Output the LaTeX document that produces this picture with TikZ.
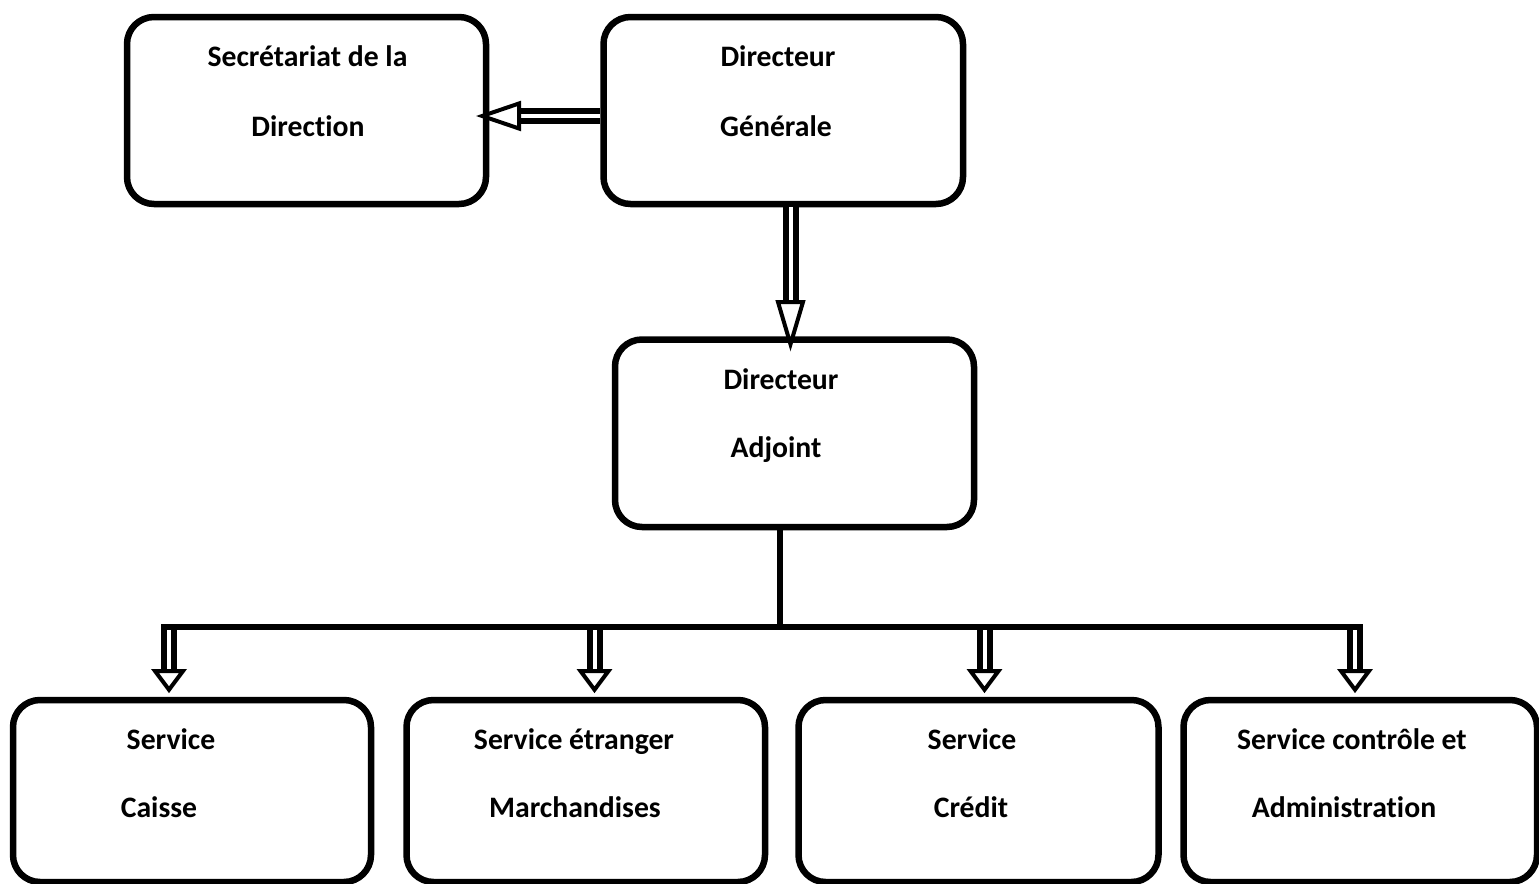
\documentclass[tikz,border=0pt]{standalone}
\usepackage{fontspec}
\setmainfont{Carlito}[Ligatures=NoCommon]
\usetikzlibrary{fit,calc}
\begin{document}
\begin{tikzpicture}[x=0.5pt,y=-0.5pt,
  box/.style={draw, line width=3.25pt, rounded corners=13.5pt, inner sep=0pt},
  txt/.style={anchor=base, inner sep=0pt, font=\bfseries\fontsize{14.85}{18}\selectfont},
  shaft/.style={draw, line width=3pt, double=white, double distance=2pt},
  head/.style={draw, fill=white, line width=2pt, line join=miter},
  link/.style={draw, line width=3pt}
]
\useasboundingbox (0,0) rectangle (1539,884);

% boxes
\node[box, fit={(127,17) (486,204)}] (sec) {};
\node[box, fit={(603.5,17) (963,204)}] (dg) {};
\node[box, fit={(615,339.5) (974,527)}] (da) {};
\node[box, fit={(13,700) (371,882)}] (s1) {};
\node[box, fit={(406.5,700) (765,882)}] (s2) {};
\node[box, fit={(798.5,700) (1158.5,882)}] (s3) {};
\node[box, fit={(1183.5,700) (1537,882)}] (s4) {};

% texts
\node[txt] (sec1) at (307.5,66) {Secrétariat de la};
\node[txt] (sec2) at (308,136) {Direction};
\node[txt] (dg1) at (778,66) {Directeur};
\node[txt] (dg2) at (776,136) {Générale};
\node[txt] (da1) at (781,389) {Directeur};
\node[txt] (da2) at (776,457) {Adjoint};
\node[txt] (s1a) at (171,749) {Service};
\node[txt] (s1b) at (159,817) {Caisse};
\node[txt] (s2a) at (574,749) {Service étranger};
\node[txt] (s2b) at (575,817) {Marchandises};
\node[txt] (s3a) at (972,749) {Service};
\node[txt] (s3b) at (971,817) {Crédit};
\node[txt] (s4a) at (1352,749) {Service contrôle et};
\node[txt] (s4b) at (1344,817) {Administration};

% Directeur Générale -> Secrétariat
\coordinate (ha) at (519,116);
\path[shaft] (dg.west |- ha) -- (ha);
\path[head] ($(ha)+(0,-12.5)$) -- ($(sec.east |- ha)+(-7,0)$) -- ($(ha)+(0,12.5)$) -- cycle;

% Directeur Générale -> Directeur Adjoint
\coordinate (hb) at (790.5,302);
\path[shaft] (dg.south -| hb) -- (hb);
\path[head] ($(hb)+(-12.5,0)$) -- ($(da.north -| hb)+(0,8)$) -- ($(hb)+(12.5,0)$) -- cycle;

% Directeur Adjoint -> distribution bar
\coordinate (bar) at (780,626.5);
\path[link] (da.south -| bar) -- (bar);

% distribution bar -> services
\foreach \k/\x in {1/169,2/594.5,3/984.5,4/1355}{
  \coordinate (p\k) at (\x,626.5);
  \coordinate (h\k) at (\x,671);
  \path[shaft] (p\k) -- (h\k);
  \path[head] ($(h\k)+(-14,0)$) -- ($(s\k.north -| h\k)+(0,-7)$) -- ($(h\k)+(14,0)$) -- cycle;
}
\path[link] ($(p1)+(-8,0)$) -- ($(p4)+(8,0)$);
\end{tikzpicture}
\end{document}
